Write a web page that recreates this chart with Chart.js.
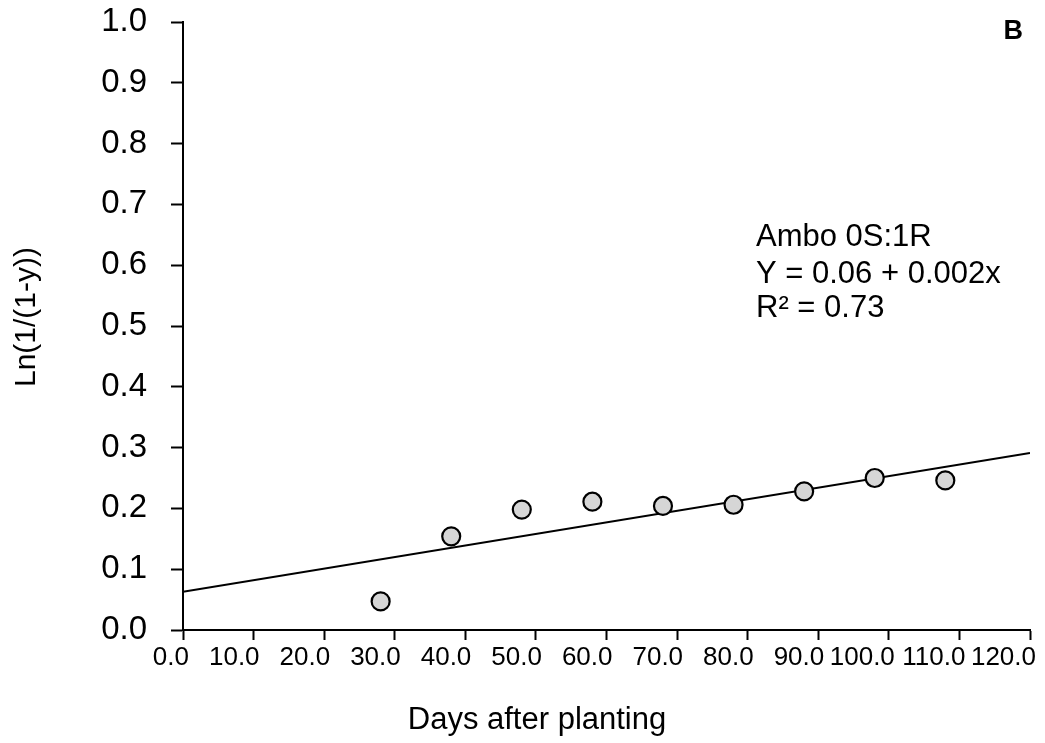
<!DOCTYPE html>
<html>
<head>
<meta charset="utf-8">
<script src="https://cdn.jsdelivr.net/npm/chart.js@4.4.1/dist/chart.umd.min.js"></script>
<style>
  html, body { margin: 0; padding: 0; background: #ffffff; }
  #wrap { width: 1045px; height: 743px; }
</style>
</head>
<body>
<div id="wrap"><canvas id="c" width="1045" height="743"></canvas></div>
<script>
// ---- data ----
const daysX = [28, 38, 48, 58, 68, 78, 88, 98, 108];
const lnValues = [0.047, 0.154, 0.198, 0.211, 0.204, 0.206, 0.228, 0.250, 0.246];
const fitX = [0, 120];
const fitY = [0.063, 0.291];
const xTickValues = [0, 10, 20, 30, 40, 50, 60, 70, 80, 90, 100, 110, 120];
const yTickValues = [0, 0.1, 0.2, 0.3, 0.4, 0.5, 0.6, 0.7, 0.8, 0.9, 1.0];
const annotationLines = ["Ambo 0S:1R", "Y = 0.06 + 0.002x", "R\u00B2 = 0.73"];
const panelLabel = "B";
const xTitle = "Days after planting";
const yTitle = "Ln(1/(1-y))";

const FONT = "'Liberation Sans', Arial, Helvetica, sans-serif";

const scatterData = daysX.map((x, i) => ({ x: x, y: lnValues[i] }));
const fitData = fitX.map((x, i) => ({ x: x, y: fitY[i] }));

const textPlugin = {
  id: 'textPlugin',
  afterDraw(chart) {
    const ctx = chart.ctx;
    const ca = chart.chartArea;
    ctx.save();
    ctx.fillStyle = '#000';
    // y axis title
    ctx.save();
    ctx.translate(27, (ca.top + ca.bottom) / 2 - 9);
    ctx.rotate(-Math.PI / 2);
    ctx.font = "30px " + FONT;
    ctx.textAlign = 'center';
    ctx.textBaseline = 'middle';
    ctx.fillText(yTitle, 0, 0);
    ctx.restore();
    // x axis title
    ctx.font = "31px " + FONT;
    ctx.textAlign = 'center';
    ctx.textBaseline = 'alphabetic';
    ctx.fillText(xTitle, 537, 729);
    // annotation
    ctx.font = "31px " + FONT;
    ctx.textAlign = 'left';
    const baselines = [246, 283, 317];
    annotationLines.forEach((t, i) => ctx.fillText(t, 756, baselines[i]));
    // panel label
    ctx.font = "bold 27px " + FONT;
    ctx.textAlign = 'right';
    ctx.fillText(panelLabel, 1023, 39);
    ctx.restore();
  }
};

new Chart(document.getElementById('c'), {
  type: 'scatter',
  data: {
    datasets: [
      {
        type: 'line',
        data: fitData,
        borderColor: '#000',
        borderWidth: 2,
        pointRadius: 0,
        fill: false,
        tension: 0,
        order: 2
      },
      {
        type: 'scatter',
        data: scatterData,
        pointRadius: 9,
        pointHoverRadius: 9,
        pointBackgroundColor: '#d6d6d6',
        pointBorderColor: '#000',
        pointBorderWidth: 2.2,
        order: 1
      }
    ]
  },
  options: {
    responsive: false,
    animation: false,
    events: [],
    layout: { padding: { top: 22, right: 15, left: 0, bottom: 0 } },
    plugins: { legend: { display: false }, tooltip: { enabled: false }, title: { display: false } },
    scales: {
      x: {
        type: 'linear',
        min: 0, max: 120,
        afterBuildTicks(scale) { scale.ticks = xTickValues.map(v => ({ value: v })); },
        afterFit(scale) { scale.height = 113; scale.paddingRight = 0; },
        grid: { display: true, drawOnChartArea: false, drawTicks: true, tickLength: 10, tickColor: '#000', tickWidth: 2 },
        border: { display: true, color: '#000', width: 2 },
        ticks: {
          color: '#000',
          font: { family: FONT, size: 26 },
          padding: 2,
          align: 'end',
          labelOffset: 6,
          maxRotation: 0, minRotation: 0, autoSkip: false,
          callback: v => Number(v).toFixed(1)
        }
      },
      y: {
        type: 'linear',
        min: 0, max: 1,
        afterBuildTicks(scale) { scale.ticks = yTickValues.map(v => ({ value: v })); },
        afterFit(scale) { scale.width = 183; scale.paddingTop = 0; scale.paddingBottom = 0; },
        grid: { display: true, drawOnChartArea: false, drawTicks: true, tickLength: 12, tickColor: '#000', tickWidth: 2 },
        border: { display: true, color: '#000', width: 2 },
        ticks: {
          color: '#000',
          font: { family: FONT, size: 33 },
          padding: 24,
          autoSkip: false,
          callback: v => Number(v).toFixed(1)
        }
      }
    }
  },
  plugins: [textPlugin]
});
</script>
</body>
</html>
